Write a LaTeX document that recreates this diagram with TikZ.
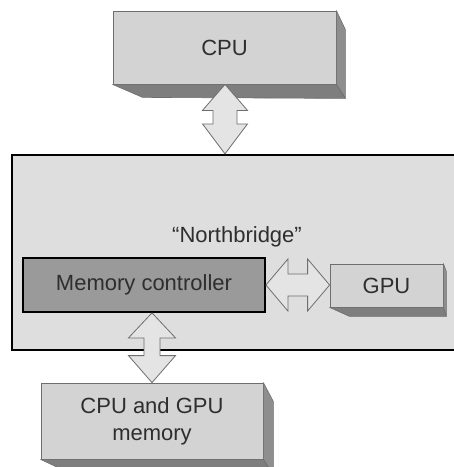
\documentclass[tikz,border=0pt]{standalone}
\usepackage{fontspec}
\setmainfont{Liberation Sans}
\usetikzlibrary{calc}
\definecolor{frontface}{HTML}{D3D3D3}
\definecolor{sideface}{HTML}{8E8E8E}
\definecolor{bottomface}{HTML}{7E7E7E}
\definecolor{chipbg}{HTML}{DEDEDE}
\definecolor{ctrlfill}{HTML}{9A9A9A}
\definecolor{arrowfill}{HTML}{E4E4E4}
\definecolor{edgegray}{HTML}{6E6E6E}
\definecolor{ink}{HTML}{2E2E2E}
\tikzset{
  box3d/.style={draw=edgegray, line width=0.8pt, fill=frontface, inner sep=0pt,
    text=ink, font=\fontsize{22}{27}\selectfont, align=center},
  sidefill/.style={fill=sideface, draw=edgegray, line width=0.6pt, line join=round},
  bottomfill/.style={fill=bottomface, draw=edgegray, line width=0.6pt, line join=round},
  chip/.style={draw=black, line width=2.2pt, fill=chipbg, inner sep=0pt},
  ctrl/.style={draw=black, line width=1.8pt, fill=ctrlfill, inner sep=0pt,
    text=ink, font=\fontsize{22}{27}\selectfont},
  chiplabel/.style={text=ink, font=\fontsize{22}{27}\selectfont, inner sep=0pt},
  bigarrow/.style={fill=arrowfill, draw=edgegray, line width=0.8pt, line join=miter}
}
\begin{document}
\begin{tikzpicture}[x=1pt, y=-1pt]
\useasboundingbox (0,0) rectangle (454,467);
\clip (0,0) rectangle (454,467);
\fill[white] (0,0) rectangle (454,467);

% northbridge chip (runs off the right edge)
\node[chip, minimum width=458pt, minimum height=195pt] (nb) at (241,252.5) {};
\node[chiplabel] (nbl) at (237,237) {“Northbridge”};

% CPU block with its extruded faces
\node[box3d, minimum width=223pt, minimum height=73pt] (cpu) at (224.5,47.5) {CPU};
\path[sidefill] (cpu.north east) -- ($(cpu.north east)+(9,19)$)
  -- ($(cpu.south east)+(9,14)$) -- (cpu.south east) -- cycle;
\path[bottomfill] (cpu.south west) -- (cpu.south east)
  -- ($(cpu.south east)+(9,14)$) -- ($(cpu.south west)+(30,13)$) -- cycle;

% memory controller inside the chip
\node[ctrl, minimum width=242pt, minimum height=54pt] (mc) at (144,285) {Memory controller};

% GPU block
\node[box3d, minimum width=113pt, minimum height=43pt] (gpu) at (386.5,285.5) {GPU};
\path[sidefill] (gpu.north east) -- ($(gpu.north east)+(3,8)$)
  -- ($(gpu.south east)+(3,9)$) -- (gpu.south east) -- cycle;
\path[bottomfill] (gpu.south west) -- (gpu.south east)
  -- ($(gpu.south east)+(3,9)$) -- ($(gpu.south west)+(20,9)$) -- cycle;

% shared memory block
\node[box3d, minimum width=222pt, minimum height=76pt] (mem) at (152,421) {CPU and GPU\\memory};
\path[sidefill] (mem.north east) -- ($(mem.north east)+(10,19)$)
  -- ($(mem.south east)+(10,16)$) -- (mem.south east) -- cycle;
\path[bottomfill] (mem.south west) -- (mem.south east)
  -- ($(mem.south east)+(10,16)$) -- ($(mem.south west)+(34,16)$) -- cycle;

% CPU <-> northbridge
\coordinate (t1) at ($(cpu.south)+(0.5,0)$);
\coordinate (b1) at (t1 |- nb.north);
\draw[bigarrow] (t1) -- ($(t1)+(22.5,26)$) -- ($(t1)+(12,26)$)
  -- ($(b1)+(12,-30)$) -- ($(b1)+(22.5,-30)$) -- (b1)
  -- ($(b1)+(-22.5,-30)$) -- ($(b1)+(-12,-30)$)
  -- ($(t1)+(-12,26)$) -- ($(t1)+(-22.5,26)$) -- cycle;

% memory controller <-> GPU
\coordinate (l2) at (mc.east);
\coordinate (r2) at (gpu.west |- mc.east);
\draw[bigarrow] (l2) -- ($(l2)+(22,-26)$) -- ($(l2)+(22,-11)$)
  -- ($(r2)+(-22,-11)$) -- ($(r2)+(-22,-26)$) -- (r2)
  -- ($(r2)+(-22,26)$) -- ($(r2)+(-22,11)$)
  -- ($(l2)+(22,11)$) -- ($(l2)+(22,26)$) -- cycle;

% memory controller <-> memory
\coordinate (t3) at (mem.north |- mc.south);
\coordinate (b3) at (mem.north);
\draw[bigarrow] (t3) -- ($(t3)+(23.5,25)$) -- ($(t3)+(8,25)$)
  -- ($(b3)+(8,-27)$) -- ($(b3)+(23.5,-27)$) -- (b3)
  -- ($(b3)+(-23.5,-27)$) -- ($(b3)+(-8,-27)$)
  -- ($(t3)+(-8,25)$) -- ($(t3)+(-23.5,25)$) -- cycle;
\end{tikzpicture}
\end{document}
